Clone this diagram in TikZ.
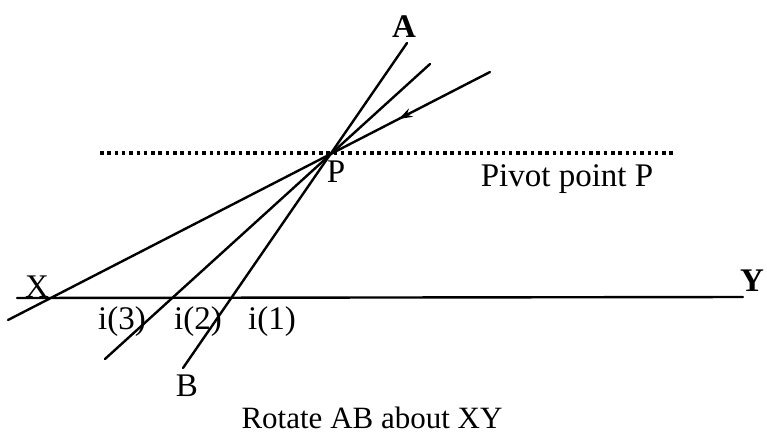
\documentclass[tikz,border=0pt]{standalone}
\usepackage{fontspec}
\setmainfont{Liberation Serif}
\usetikzlibrary{arrows.meta,decorations.markings}
\tikzset{
  ln/.style={line width=2.4pt, line cap=round},
  lbl/.style={inner sep=0pt, font=\fontsize{33}{36}\selectfont},
  dotline/.style={line width=3.5pt, dash pattern=on 3.5pt off 3.8pt},
}
\begin{document}
\begin{tikzpicture}[x=1pt,y=-1pt]
\useasboundingbox (0,0) rectangle (767,437);
% points
\coordinate (P) at (332,153);
\coordinate (a1) at (407,43);
\coordinate (b1) at (183,368);
\coordinate (a2) at (430,64);
\coordinate (b2) at (105,359);
\coordinate (a3) at (490,72);
\coordinate (b3) at (8,320);
\coordinate (d1) at (100,153);
\coordinate (d2) at (676,153);
\coordinate (x0) at (17,298);
\coordinate (y0) at (743,297);
% lines
\draw[dotline] (d1) -- (d2);
\draw[ln] (x0) -- (y0);
\draw[ln] (a1) -- (b1);
\draw[ln] (a2) -- (b2);
\draw[ln, postaction={decorate}, decoration={markings, mark=at position 0.19 with {\arrow{Stealth[length=14pt,width=9pt]}}}] (a3) -- (b3);
% labels
\node[lbl, font=\fontsize{33}{36}\selectfont\bfseries] (A) at (404,27) {A};
\node[lbl] (Pl) at (336,172) {P};
\node[lbl] (piv) at (567,179) {Pivot point P};
\node[lbl] (X) at (37,287) {X};
\node[lbl, font=\fontsize{33}{36}\selectfont\bfseries] (Y) at (752,281) {Y};
\node[lbl] (i3) at (122,322) {i(3)};
\node[lbl] (i2) at (198,322) {i(2)};
\node[lbl] (i1) at (272,322) {i(1)};
\node[lbl] (B) at (187,386) {B};
\node[lbl, font=\fontsize{31}{34}\selectfont] (cap) at (372,418) {Rotate AB about XY};
\end{tikzpicture}
\end{document}
